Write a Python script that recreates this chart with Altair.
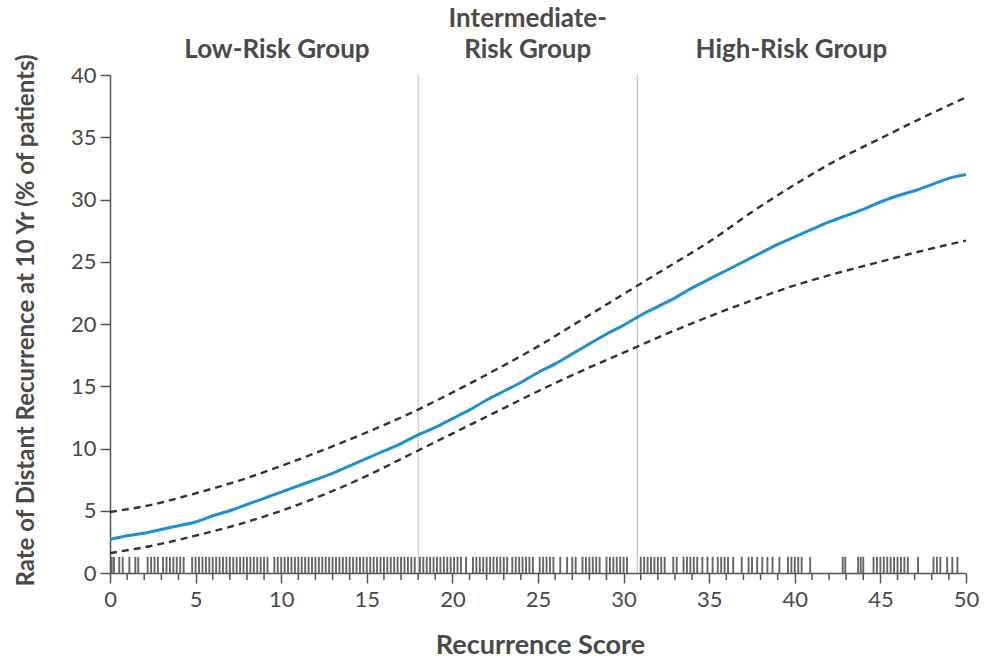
import altair as alt
import pandas as pd

# ---- data ----
score_blue = list(range(0, 51))
rate_blue = [2.7, 3.0, 3.2, 3.5, 3.8, 4.1, 4.6, 5.0, 5.5, 6.0,
             6.5, 7.0, 7.5, 8.0, 8.6, 9.2, 9.8, 10.4, 11.1, 11.7,
             12.4, 13.1, 13.9, 14.6, 15.3, 16.1, 16.8, 17.6, 18.4, 19.2,
             19.9, 20.7, 21.4, 22.1, 22.9, 23.6, 24.3, 25.0, 25.7, 26.4,
             27.0, 27.6, 28.2, 28.7, 29.2, 29.8, 30.3, 30.7, 31.2, 31.7, 32.0]

score_ci = [0, 2.5, 5, 7.5, 10, 12.5, 15, 17.5, 20, 22.5, 25, 27.5,
            30, 32.5, 35, 37.5, 40, 42.5, 45, 47.5, 50]
upper_ci = [4.9, 5.5, 6.4, 7.4, 8.6, 9.9, 11.3, 12.8, 14.5, 16.3, 18.2, 20.3,
            22.4, 24.5, 26.6, 29.0, 31.2, 33.2, 34.9, 36.6, 38.2]
lower_ci = [1.6, 2.2, 3.0, 3.9, 5.0, 6.3, 7.8, 9.5, 11.2, 12.9, 14.6, 16.2,
            17.7, 19.2, 20.6, 21.9, 23.1, 24.1, 25.0, 25.9, 26.7]

rug_scores = [
    0.1, 0.23, 0.54, 0.74, 1.13, 1.48, 1.65,
    2.2, 2.4, 2.6, 2.8,
    3.1, 3.3, 3.5, 3.7, 3.9, 4.1, 4.3,
    4.8, 5.0, 5.2, 5.4, 5.6, 5.8, 6.0, 6.2, 6.4, 6.6, 6.8, 7.0, 7.2, 7.4,
    7.6, 7.8, 8.0, 8.2, 8.4, 8.6, 8.8, 9.0, 9.2,
    9.6, 9.8, 10.0, 10.2, 10.4, 10.6, 10.8, 11.0, 11.2, 11.4, 11.6, 11.8,
    12.0, 12.2, 12.4, 12.6, 12.8, 13.0, 13.2, 13.4, 13.6, 13.8, 14.0, 14.2,
    14.4, 14.6, 14.8, 15.0, 15.2, 15.4, 15.6, 15.8, 16.0, 16.2, 16.4, 16.6,
    16.8, 17.0, 17.2, 17.4, 17.6, 17.8,
    18.1, 18.3, 18.5, 18.7, 18.9, 19.1, 19.3, 19.5, 19.7, 19.9, 20.1, 20.3, 20.5,
    20.8,
    21.2, 21.4, 21.6, 21.8, 22.0, 22.2, 22.4, 22.6, 22.8, 23.0, 23.2,
    23.5, 23.7, 23.9, 24.1, 24.3, 24.5, 24.7,
    25.1, 25.3, 25.5, 25.7, 25.9,
    26.3, 26.7, 27.0, 27.2,
    27.6, 27.8, 28.0, 28.2, 28.4, 28.6,
    29.0, 29.2, 29.4, 29.6, 29.8, 30.0, 30.2,
    31.0, 31.2, 31.4, 31.6, 31.8, 32.0, 32.2, 32.4,
    32.9, 33.1, 33.5, 33.7, 33.9, 34.1, 34.3, 34.6, 34.9, 35.2, 35.5, 35.7,
    35.9, 36.1, 36.4, 36.9, 37.3, 37.5, 37.8, 38.1, 38.4, 38.7, 39.1, 39.6,
    39.8, 40.0, 40.2, 40.4, 40.9, 42.8, 42.95, 43.7, 43.85, 44.0, 44.6, 44.8,
    45.0, 45.2, 45.4, 45.6, 45.8, 46.0, 46.2, 46.4, 46.6, 47.2, 48.1, 48.3,
    48.5, 48.9, 49.2, 49.5,
]
rug_height = 1.3

group_bounds = [18, 30.8]
group_centers = [9.75, 24.4, 39.8]
group_line1 = ["", "Intermediate-", ""]
group_line2 = ["Low-Risk Group", "Risk Group", "High-Risk Group"]

x_major = list(range(0, 51, 5))
x_minor = [v for v in range(0, 51) if v % 5 != 0]
y_ticks = list(range(0, 41, 5))

# ---- tables ----
blue_df = pd.DataFrame({"score": score_blue, "rate": rate_blue})
ci_df = pd.concat([
    pd.DataFrame({"score": score_ci, "rate": upper_ci, "band": "upper"}),
    pd.DataFrame({"score": score_ci, "rate": lower_ci, "band": "lower"}),
])
rug_df = pd.DataFrame({"score": rug_scores, "y0": 0.0, "y1": rug_height})
bounds_df = pd.DataFrame({"score": group_bounds})
groups_df = pd.DataFrame({"score": group_centers, "l1": group_line1, "l2": group_line2})
minor_df = pd.DataFrame({"score": x_minor})

FONT = "Lato"
TXT = "#4a4a4a"
AX = "#555555"
H = 498

xscale = alt.Scale(domain=[0, 50], nice=False, zero=False)
yscale = alt.Scale(domain=[0, 40], nice=False)

x_axis = alt.Axis(
    values=x_major, format="d",
    labelOverlap=False, labelFlush=False,
    tickSize=10, tickColor=AX, tickWidth=1.5, domainColor=AX, domainWidth=1.5,
    labelFont=FONT, labelFontSize=22, labelColor=TXT, labelPadding=6,
    grid=False,
    title="Recurrence Score", titleFont=FONT, titleFontSize=27, titleFontWeight="bold",
    titleColor=TXT, titleX=430, titleY=72, titleBaseline="middle", titleAlign="center",
)
y_axis = alt.Axis(
    values=y_ticks, format="d", tickSize=10, tickColor=AX, tickWidth=1.5,
    domainColor=AX, domainWidth=1.5,
    labelFont=FONT, labelFontSize=22, labelColor=TXT, labelPadding=4,
    labelOverlap=False, labelFlush=False,
    grid=False,
    title="Rate of Distant Recurrence at 10 Yr (% of patients)",
    titleFont=FONT, titleFontSize=24, titleFontWeight="bold", titleColor=TXT,
    titleX=-84, titleY=245, titleAngle=270, titleAlign="center", titleBaseline="middle",
)


def X(field="score"):
    return alt.X(f"{field}:Q", scale=xscale, axis=x_axis)


def Y(field):
    return alt.Y(f"{field}:Q", scale=yscale, axis=y_axis)


bounds = alt.Chart(bounds_df).mark_rule(color="#b8b8b8", strokeWidth=1).encode(
    x=X(), y=alt.value(0), y2=alt.value(H),
)

minor = alt.Chart(minor_df).mark_rule(color=AX, strokeWidth=1.5).encode(
    x=X(), y=alt.value(H), y2=alt.value(H + 7),
)

rug = alt.Chart(rug_df).mark_rule(color="#666666", strokeWidth=1.9).encode(
    x=X(), y=Y("y0"), y2="y1:Q",
)

ci = alt.Chart(ci_df).mark_line(
    color="#333333", strokeWidth=2.4, strokeDash=[7, 5], interpolate="monotone"
).encode(
    x=X(), y=Y("rate"), detail="band:N",
)

blue = alt.Chart(blue_df).mark_line(
    color="#1f8fd3", strokeWidth=3, interpolate="monotone"
).encode(
    x=X(), y=Y("rate"),
)

head2 = alt.Chart(groups_df).mark_text(
    font=FONT, fontSize=26, fontWeight="bold", color=TXT, align="center",
    baseline="alphabetic"
).encode(
    x=X(), y=alt.value(-17), text="l2:N",
)
head1 = alt.Chart(groups_df).mark_text(
    font=FONT, fontSize=26, fontWeight="bold", color=TXT, align="center",
    baseline="alphabetic"
).encode(
    x=X(), y=alt.value(-48), text="l1:N",
)

chart = alt.layer(bounds, minor, rug, ci, blue, head1, head2).properties(
    width=856, height=H,
    autosize=alt.AutoSizeParams(type="none"),
    padding={"left": 110, "top": 75, "right": 18, "bottom": 86},
    background="white",
).configure_view(stroke=None)

chart.save("out.html", embed_options={"renderer": "svg", "actions": False})
